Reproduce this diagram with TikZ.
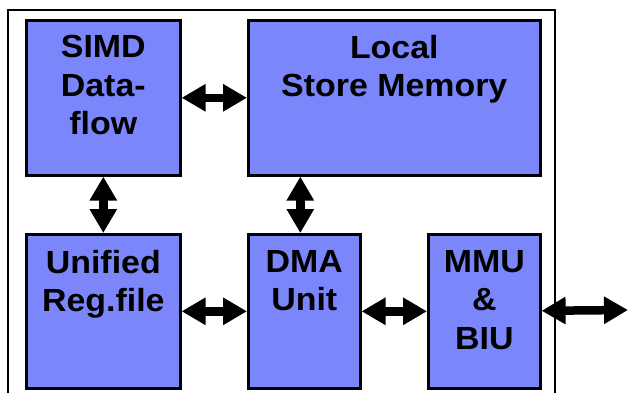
\documentclass[tikz,border=0pt]{standalone}
\usepackage{fontspec}
\setmainfont{Liberation Sans}[FakeStretch=1.06]
\usetikzlibrary{arrows.meta}
\definecolor{boxblue}{RGB}{122,134,250}
\begin{document}
\begin{tikzpicture}[x=1pt,y=-1pt,
  unit/.style={draw=black, line width=2.6pt, fill=boxblue, inner sep=0pt, anchor=north west},
  lbl/.style={anchor=north, inner sep=0pt, align=center, font=\bfseries\fontsize{32}{38.5}\selectfont},
  biarrow/.style={line width=8.5pt, {Triangle[length=24pt,width=26pt]}-{Triangle[length=24pt,width=26pt]}}]
\useasboundingbox (0,0) rectangle (629,392);
\draw[line width=2pt] (8,420) -- (8,10) -- (555,10) -- (555,420);
\node[unit, minimum width=154pt, minimum height=155pt] (simd) at (25,19) {};
\node[unit, minimum width=292pt, minimum height=155pt] (ls) at (247,19) {};
\node[unit, minimum width=154pt, minimum height=154pt] (uni) at (25,233) {};
\node[unit, minimum width=112pt, minimum height=154pt] (dma) at (247,233) {};
\node[unit, minimum width=112pt, minimum height=154pt] (mmu) at (427,233) {};
\node[lbl] (simdt) at ([yshift=-16pt]simd.north) {SIMD\\Data-\\flow};
\node[lbl] (lst) at ([yshift=-16pt]ls.north) {Local\\Store Memory};
\node[lbl] (unit) at ([yshift=-17pt]uni.north) {Unified\\Reg.file};
\node[lbl] (dmat) at ([yshift=-17pt]dma.north) {DMA\\Unit};
\node[lbl] (mmut) at ([yshift=-17pt]mmu.north) {MMU\\\&\\BIU};
\coordinate (out) at (628,310);
\draw[biarrow] (simd) -- (ls);
\draw[biarrow] (simd) -- (uni);
\draw[biarrow] ([xshift=-4pt]dma.north) -- ([xshift=-4pt]dma.north |- ls.south);
\draw[biarrow] (uni) -- (dma);
\draw[biarrow] (dma) -- (mmu);
\draw[biarrow] (mmu) -- (out);
\end{tikzpicture}
\end{document}
